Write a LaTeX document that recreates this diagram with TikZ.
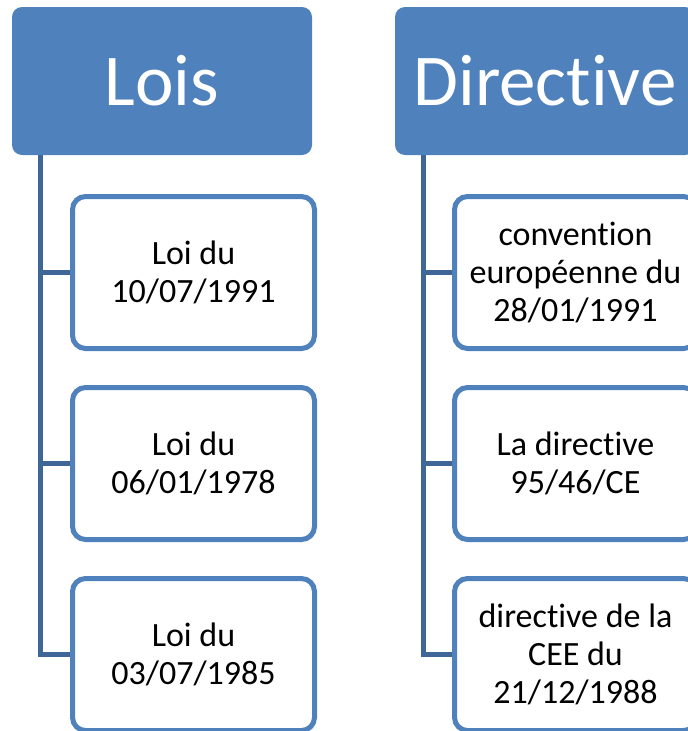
\documentclass[tikz,border=0pt]{standalone}
\usepackage{fontspec}
\setmainfont{Carlito}[RawFeature=-liga]
\usetikzlibrary{positioning}
\definecolor{headblue}{HTML}{4F81BD}
\definecolor{spineblue}{HTML}{3E6797}
\tikzset{
  headbox/.style={rectangle, rounded corners=10pt, fill=headblue, text=white,
    minimum width=300pt, minimum height=148pt, inner sep=0pt,
    font=\fontsize{73}{80}\selectfont},
  itembox/.style={rectangle, rounded corners=13pt, draw=headblue, line width=5pt,
    fill=white, minimum width=242pt, minimum height=152pt, inner sep=0pt,
    align=center, font=\fontsize{34}{38}\selectfont},
  link/.style={draw=spineblue, line width=5pt}
}
\begin{document}
\begin{tikzpicture}[x=1pt,y=-1pt]
  \clip (0,0) rectangle (688,731);
  \fill[white] (0,0) rectangle (688,731);
  % headers
  \node[headbox] (lois) at (162,81) {Lois};
  \node[headbox] (directive) at (545,81) {Directive};
  % lois column
  \node[itembox] (loi1) at (193.5,272.5) {Loi du\\10/07/1991};
  \node[itembox] (loi2) at (193.5,463.5) {Loi du\\06/01/1978};
  \node[itembox] (loi3) at (193.5,654.5) {Loi du\\03/07/1985};
  % directive column
  \node[itembox] (dir1) at (575.5,272.5) {convention\\europ\'eenne du\\28/01/1991};
  \node[itembox] (dir2) at (575.5,463.5) {La directive\\95/46/CE};
  \node[itembox] (dir3) at (575.5,654.5) {directive de la\\CEE du\\21/12/1988};
  % spines
  \coordinate (lspine) at (40,155);
  \coordinate (dspine) at (423,155);
  \draw[link] (lspine) |- (loi3.west);
  \draw[link] (lspine |- loi1.west) -- (loi1.west);
  \draw[link] (lspine |- loi2.west) -- (loi2.west);
  \draw[link] (dspine) |- (dir3.west);
  \draw[link] (dspine |- dir1.west) -- (dir1.west);
  \draw[link] (dspine |- dir2.west) -- (dir2.west);
\end{tikzpicture}
\end{document}
